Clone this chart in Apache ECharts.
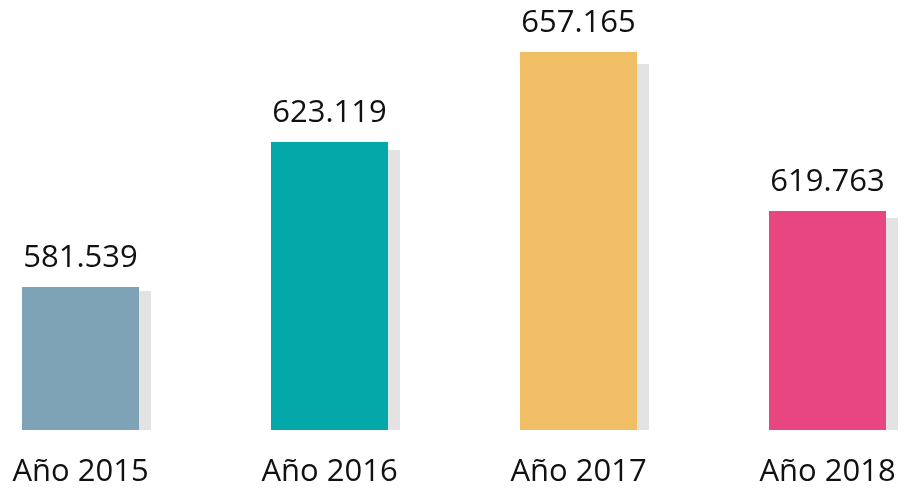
<!DOCTYPE html>
<html>
<head>
<meta charset="utf-8">
<script src="https://cdn.jsdelivr.net/npm/echarts@6/dist/echarts.min.js"></script>
<style>
  html, body { margin: 0; padding: 0; background: #fff; }
  #chart { width: 904px; height: 491px; }
</style>
</head>
<body>
<div id="chart"></div>
<script>
// categorías y valores mostrados
const anios = ['Año 2015', 'Año 2016', 'Año 2017', 'Año 2018']
const valores = [581539, 623119, 657165, 619763]
// alturas de las barras tal como aparecen en la imagen (no proporcionales a los valores)
const alturas = [143, 288, 378, 219]
const alturasSombra = [139, 280, 366, 212]
const colores = ['#7fa3b6', '#05a8a8', '#f0bf65', '#e84680']

function formatoEs(v) {
  return v.toString().replace(/\B(?=(\d{3})+(?!\d))/g, '.')
}

const chart = echarts.init(document.getElementById('chart'))

chart.setOption({
  animation: false,
  grid: { left: 86.5, right: 70.5, top: 0, bottom: 61 },
  xAxis: {
    type: 'category',
    data: anios,
    boundaryGap: false,
    axisLine: { show: false },
    axisTick: { show: false },
    axisLabel: {
      margin: 27,
      fontSize: 31,
      color: '#111',
      fontFamily: 'Open Sans',
      padding: [0, 12, 0, 0]
    }
  },
  yAxis: {
    type: 'value',
    min: 0,
    max: 430,
    show: false
  },
  series: [
    {
      type: 'bar',
      name: 'valor',
      barWidth: 117,
      barGap: '-89.74%',
      z: 3,
      data: alturas.map((h, i) => ({
        value: h,
        itemStyle: { color: colores[i] },
        label: { formatter: formatoEs(valores[i]) }
      })),
      label: {
        show: true,
        position: 'top',
        distance: 13,
        fontSize: 31,
        color: '#111',
        fontFamily: 'Open Sans'
      }
    },
    {
      type: 'bar',
      name: 'sombra',
      barWidth: 117,
      z: 1,
      silent: true,
      itemStyle: { color: '#e3e3e3' },
      data: alturasSombra
    }
  ]
})
</script>
</body>
</html>
